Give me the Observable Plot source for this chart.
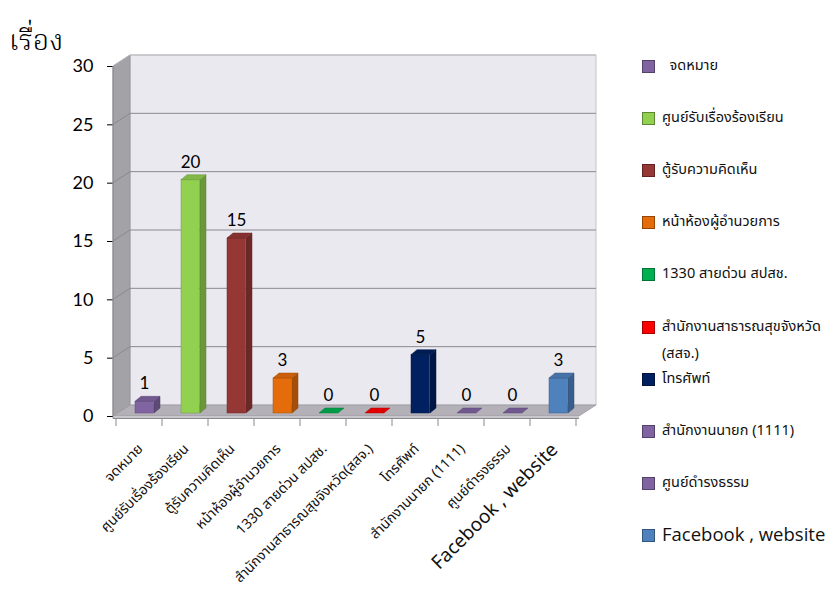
<!DOCTYPE html>
<html>
<head>
<meta charset="utf-8">
<script src="https://cdn.jsdelivr.net/npm/d3@7"></script>
<script src="https://cdn.jsdelivr.net/npm/@observablehq/plot@0.6"></script>
<style>
  html, body { margin: 0; padding: 0; background: #fff; }
  #wrap { position: relative; width: 831px; height: 589px; overflow: hidden; }
  #chart { position: absolute; left: 0; top: 0; }
  .thai { font-family: Tahoma, "Noto Sans Thai", "Loma", "Garuda", "DejaVu Sans", sans-serif; }
  #ylabel { position: absolute; left: 9px; top: 19px; font-size: 29px; font-weight: 300; font-family: "Noto Serif Thai", "Noto Sans Thai", serif; color: #000; }
  .leg { position: absolute; left: 642px; font-size: 12px; color: #111; white-space: nowrap; }
  .leg .sw { position: absolute; left: 0; width: 11px; height: 11px; border: 1px solid rgba(0,0,0,0.35); }
  .leg .tx { position: absolute; left: 20px; }
</style>
</head>
<body>
<div id="wrap">
  <div id="chart"></div>
  <div id="ylabel">เรื่อง</div>
</div>
<script>
// ---- data ----
const categories = [
  "จดหมาย",
  "ศูนย์รับเรื่องร้องเรียน",
  "ตู้รับความคิดเห็น",
  "หน้าห้องผู้อำนวยการ",
  "1330 สายด่วน สปสช.",
  "สำนักงานสาธารณสุขจังหวัด(สสจ.)",
  "โทรศัพท์",
  "สำนักงานนายก (1111)",
  "ศูนย์ดำรงธรรม",
  "Facebook , website"
];
const values = [1, 20, 15, 3, 0, 0, 5, 0, 0, 3];
const colors = ["#8064A2", "#92D050", "#953735", "#E46C0A", "#00B050", "#FF0000", "#002060", "#8064A2", "#8064A2", "#4F81BD"];
const legendLabels = [
  "  จดหมาย",
  "ศูนย์รับเรื่องร้องเรียน",
  "ตู้รับความคิดเห็น",
  "หน้าห้องผู้อำนวยการ",
  "1330 สายด่วน สปสช.",
  "สำนักงานสาธารณสุขจังหวัด\n(สสจ.)",
  "โทรศัพท์",
  "สำนักงานนายก (1111)",
  "ศูนย์ดำรงธรรม",
  "Facebook , website"
];
const yTicks = [0, 5, 10, 15, 20, 25, 30];

const data = categories.map((c, i) => ({cat: c, value: values[i], color: colors[i]}));

// depth offsets (pixels) for the pseudo-3D look
const DX = 17, DY = -11;      // wall depth
const BX = 6, BY = -5;        // bar depth
const BAR_OFF = 19, BAR_W = 19, BAR_BACK = -3;

const W = 831, H = 589;
const thaiFont = 'Tahoma, "Noto Sans Thai", Loma, Garuda, "DejaVu Sans", sans-serif';

function poly(g, pts, fill, stroke, sw) {
  g.append("polygon")
    .attr("points", pts.map(p => p.join(",")).join(" "))
    .attr("fill", fill)
    .attr("stroke", stroke || "none")
    .attr("stroke-width", sw || 0);
}

// walls, floor and gridlines
function walls(index, scales, values, dims) {
  const y = scales.y;
  const x0 = dims.marginLeft, x1 = dims.width - dims.marginRight;
  const y0 = y(0), yTop = y(30);
  const g = d3.create("svg:g");
  // back wall
  poly(g, [[x0 + DX, yTop + DY], [x1 + DX, yTop + DY], [x1 + DX, y0 + DY], [x0 + DX, y0 + DY]], "#ebe9f0", "#c4c4c8", 1);
  // left side wall
  poly(g, [[x0, yTop], [x0 + DX, yTop + DY], [x0 + DX, y0 + DY], [x0, y0]], "#a3a3a7", "#8f8f93", 0.8);
  // floor
  poly(g, [[x0, y0], [x0 + DX, y0 + DY], [x1 + DX, y0 + DY], [x1, y0]], "#b3b1b7", "#9a989e", 0.8);
  poly(g, [[x0, y0], [x1, y0], [x1, y0 + 2], [x0, y0 + 2]], "#c9c7cc", "none", 0);
  // gridlines (back + diagonal on side wall)
  for (const t of yTicks) {
    if (t === 0) continue;
    const yy = y(t);
    g.append("polyline")
      .attr("points", `${x0},${yy} ${x0 + DX},${yy + DY} ${x1 + DX},${yy + DY}`)
      .attr("fill", "none")
      .attr("stroke", t === 30 ? "#b9b9bd" : "#8a8a8e")
      .attr("stroke-width", 1);
  }
  // front axis line and category separator ticks
  g.append("line").attr("x1", x0).attr("x2", x1).attr("y1", y0 + 2.5).attr("y2", y0 + 2.5)
    .attr("stroke", "#8a8a8a").attr("stroke-width", 1);
  const bw = scales.x.bandwidth();
  for (let i = 0; i <= categories.length; i++) {
    const xx = i < categories.length ? scales.x(categories[i]) : scales.x(categories[i - 1]) + bw;
    g.append("line").attr("x1", xx).attr("x2", xx).attr("y1", y0 + 2.5).attr("y2", y0 + 10)
      .attr("stroke", "#8a8a8a").attr("stroke-width", 1);
  }
  // vertical axis line
  g.append("line").attr("x1", x0).attr("x2", x0).attr("y1", yTop).attr("y2", y0 + 2.5)
    .attr("stroke", "#8a8a8a").attr("stroke-width", 1);
  return g.node();
}

// side and top faces of each bar
function barFaces(index, scales, values, dims) {
  const g = d3.create("svg:g");
  const y = scales.y;
  for (const d of data) {
    const xa = scales.x(d.cat) + BAR_OFF, xb = xa + BAR_W;
    const base = y(0) + BAR_BACK, top = y(d.value) + BAR_BACK;
    const c = d3.color(d.color);
    if (d.value > 0) {
      poly(g, [[xb, top], [xb + BX, top + BY], [xb + BX, base + BY], [xb, base]], c.darker(0.9).formatHex(), c.darker(1.3).formatHex(), 0.5);
    }
    poly(g, [[xa, top], [xa + BX, top + BY], [xb + BX, top + BY], [xb, top]], c.darker(0.35).formatHex(), c.darker(0.9).formatHex(), 0.5);
  }
  return g.node();
}

const bw = (579 - 113) / categories.length;

const plot = Plot.plot({
  width: W,
  height: H,
  marginLeft: 113,
  marginRight: W - 579,
  marginTop: 66,
  marginBottom: H - 416,
  style: {fontFamily: "Lato, 'Open Sans', sans-serif", fontSize: "18px", color: "#000", background: "transparent"},
  x: {type: "band", domain: categories, padding: 0, axis: null},
  y: {domain: [0, 30], ticks: yTicks, tickSize: 6, tickPadding: 14, label: null, tickFormat: d => String(d)},
  marks: [
    walls,
    Plot.barY(data, {
      x: "cat", y: "value", fill: "color",
      stroke: d => d3.color(d.color).darker(0.8).formatHex(), strokeWidth: 0.5,
      insetLeft: BAR_OFF, insetRight: bw - BAR_OFF - BAR_W, dy: BAR_BACK
    }),
    barFaces,
    Plot.text(data, {
      x: "cat", y: "value", text: d => String(d.value),
      dx: 5, dy: -21, fontSize: 17, fill: "#000"
    }),
    Plot.text(data, {
      x: "cat", y: () => 0, text: "cat",
      rotate: -45, textAnchor: "end", lineAnchor: "middle",
      dx: 1, dy: 30,
      fontSize: d => d.cat.startsWith("Facebook") ? 19 : 14,
      fontFamily: thaiFont, fill: "#111"
    })
  ]
});
document.getElementById("chart").appendChild(plot);

// legend
const wrap = document.getElementById("wrap");
legendLabels.forEach((lab, i) => {
  const cy = 66 + i * 52.1;
  const item = document.createElement("div");
  item.className = "leg thai";
  item.style.top = (cy - 6) + "px";
  const big = lab.startsWith("Facebook");
  const sw = document.createElement("div");
  sw.className = "sw";
  sw.style.background = colors[i];
  sw.style.top = "0px";
  item.appendChild(sw);
  const lines = lab.split("\n");
  lines.forEach((ln, k) => {
    const tx = document.createElement("div");
    tx.className = "tx";
    tx.textContent = ln;
    tx.style.whiteSpace = "pre";
    tx.style.fontSize = big ? "18.5px" : "14.5px";
    tx.style.fontFamily = big ? "'Open Sans', sans-serif" : thaiFont;
    tx.style.top = (big ? -8 : -5) + k * 27 + "px";
    item.appendChild(tx);
  });
  wrap.appendChild(item);
});
</script>
</body>
</html>
